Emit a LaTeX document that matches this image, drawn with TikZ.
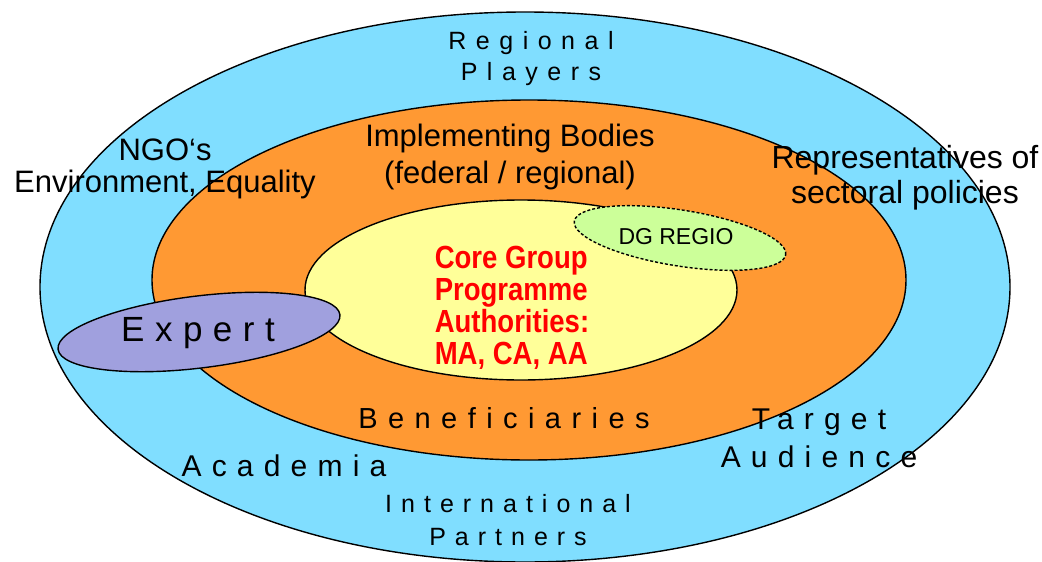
\documentclass[tikz,border=0pt]{standalone}
\usepackage{fontspec}
\setmainfont{Liberation Sans}
\usetikzlibrary{shapes.geometric}
\definecolor{skyc}{RGB}{128,222,255}
\definecolor{orangec}{RGB}{255,153,51}
\definecolor{yellowc}{RGB}{255,255,153}
\definecolor{greenc}{RGB}{204,255,153}
\definecolor{purplec}{RGB}{160,160,222}
\definecolor{redc}{RGB}{255,0,0}
\newcommand{\fs}[3]{\fontsize{#1}{#2}\selectfont\addfontfeature{LetterSpace=#3}}
\begin{document}
\begin{tikzpicture}[x=1pt,y=-1pt,
  ring/.style={ellipse,draw=black,line width=1.4pt,inner sep=0pt},
  lbl/.style={align=center,inner sep=0pt}]
\useasboundingbox (0,0) rectangle (1042,562);
\clip (0,0) rectangle (1042,562);
\node[ring,fill=skyc,minimum width=970,minimum height=550] (outer) at (525,287) {};
\node[ring,fill=orangec,minimum width=754,minimum height=360] (impl) at (529,280) {};
\node[ring,fill=yellowc,minimum width=432,minimum height=180] (core) at (521,290) {};
\node[ring,fill=greenc,dashed,dash pattern=on 3pt off 2pt,minimum width=214,minimum height=56,rotate=-9] (dg) at (680,238) {};
\node[ring,fill=purplec,minimum width=284,minimum height=72,rotate=7] (expert) at (199,332) {};
% texts
\node[lbl,font=\fs{25}{31}{38}] (regional) at (531,59) {Regional\\Players};
\node[lbl,font=\fontsize{31}{32}\selectfont] (ngo) at (165,169) {NGO‘s\\Environment, Equality};
\node[lbl,font=\fontsize{31}{37}\selectfont] (implt) at (510,157) {Implementing Bodies\\(federal / regional)};
\node[lbl,font=\fontsize{32}{35}\selectfont] (repr) at (905,178) {Representatives of\\sectoral policies};
\node[lbl,font=\fontsize{23}{26}\selectfont] (dgt) at (676,237) {DG REGIO};
\node[align=left,inner sep=0pt,text=redc,xscale=0.86,font=\bfseries\fontsize{32}{32}\selectfont] (coret) at (512,308) {Core Group\\Programme\\Authorities:\\MA, CA, AA};
\node[lbl,font=\fs{35}{38}{30}] (expt) at (198,333) {Expert};
\node[lbl,font=\fs{29}{34}{36}] (benef) at (504,418) {Beneficiaries};
\node[lbl,font=\fs{30}{38}{34}] (target) at (819,438) {Target\\Audience};
\node[lbl,font=\fs{30}{34}{34}] (acad) at (284,466) {Academia};
\node[lbl,font=\fs{25}{33}{36}] (intl) at (508,520) {International\\Partners};
\end{tikzpicture}
\end{document}
